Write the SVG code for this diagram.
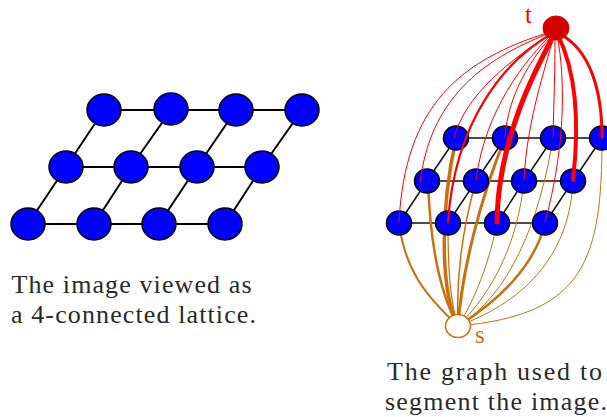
<svg xmlns="http://www.w3.org/2000/svg" width="607" height="417" viewBox="0 0 607 417">
<style>
.n{fill:#0000ff;stroke:#000;stroke-width:1.5}
.g{stroke:#000;stroke-width:2;fill:none}
.g2{stroke:#111;stroke-width:1.5;fill:none}
.r{stroke:#ff0000;fill:none;stroke-linecap:round}
.o{stroke:#c8700e;fill:none;stroke-linecap:round}
.cap{font-family:"Liberation Serif","DejaVu Serif",serif;font-size:26px;fill:#2a2a2a}
.lbl{font-family:"Liberation Serif","DejaVu Serif",serif;font-size:25px}
</style>
<rect width="607" height="417" fill="#fff"/>
<!-- Left lattice -->
<g id="lattice-edges">
<path class="g" d="M104,110H302M66,167H262M28,224H225"/>
<path class="g" d="M28,224L66,167L104,110M94,224L131,167L171,110M159,224L197,167L236,110M225,224L262,167L302,110"/>
</g>
<g id="L-t1"><ellipse class="n" cx="104" cy="110" rx="17" ry="16"/></g>
<g id="L-t2"><ellipse class="n" cx="171" cy="109" rx="17" ry="16"/></g>
<g id="L-t3"><ellipse class="n" cx="236" cy="110" rx="17" ry="16"/></g>
<g id="L-t4"><ellipse class="n" cx="302" cy="110" rx="17" ry="16"/></g>
<g id="L-m1"><ellipse class="n" cx="66" cy="167" rx="17" ry="16"/></g>
<g id="L-m2"><ellipse class="n" cx="131" cy="167" rx="17" ry="16"/></g>
<g id="L-m3"><ellipse class="n" cx="197" cy="167" rx="17" ry="16"/></g>
<g id="L-m4"><ellipse class="n" cx="262" cy="167" rx="17" ry="16"/></g>
<g id="L-b1"><ellipse class="n" cx="28" cy="224" rx="17" ry="16"/></g>
<g id="L-b2"><ellipse class="n" cx="94" cy="224" rx="17" ry="16"/></g>
<g id="L-b3"><ellipse class="n" cx="159" cy="224" rx="17" ry="16"/></g>
<g id="L-b4"><ellipse class="n" cx="225" cy="224" rx="17" ry="16"/></g>
<text class="cap" x="11.5" y="293" textLength="240">The image viewed as</text>
<text class="cap" x="11" y="323" textLength="245">a 4-connected lattice.</text>

<!-- Right graph -->
<g id="grid-edges">
<path class="g2" d="M456,138H602M427,181H573M399,223H545"/>
<path class="g2" d="M399,223L427,181L456,138M448,223L476,181L505,138M497,223L524,181L553,138M545,223L573,181L602,138"/>
</g>
<g id="s-edges">
<path class="o" stroke-width="2" d="M399,223C405,270 425,295 458,326"/>
<path class="o" stroke-width="2.5" d="M428,181C430,240 438,290 458,326"/>
<path class="o" stroke-width="3.5" d="M456,139C440,210 440,290 458,326"/>
<path class="o" stroke-width="1.2" d="M448,223C448,270 450,300 458,326"/>
<path class="o" stroke-width="1.5" d="M476,181C462,230 456,280 458,326"/>
<path class="o" stroke-width="3" d="M505,138C480,200 462,270 458,326"/>
<path class="o" stroke-width="1" d="M497,223C490,260 475,300 458,326"/>
<path class="o" stroke-width="1" d="M524,181C518,240 495,290 458,326"/>
<path class="o" stroke-width="1" d="M553,138C540,220 510,295 458,326"/>
<path class="o" stroke-width="2.5" d="M545,223C535,265 500,300 458,326"/>
<path class="o" stroke-width="1" d="M573,181C570,250 530,300 458,326"/>
<path class="o" stroke-width="1" d="M602,138C602,260 585,315 458,326"/>
</g>
<g id="R-t1"><ellipse class="n" cx="456" cy="138" rx="12.5" ry="12"/></g>
<g id="R-t2"><ellipse class="n" cx="505" cy="138" rx="12.5" ry="12"/></g>
<g id="R-t3"><ellipse class="n" cx="553" cy="138" rx="12.5" ry="12"/></g>
<g id="R-t4"><ellipse class="n" cx="602" cy="138" rx="12.5" ry="12"/></g>
<g id="R-m1"><ellipse class="n" cx="427" cy="181" rx="12.5" ry="12"/></g>
<g id="R-m2"><ellipse class="n" cx="476" cy="181" rx="12.5" ry="12"/></g>
<g id="R-m3"><ellipse class="n" cx="524" cy="181" rx="12.5" ry="12"/></g>
<g id="R-m4"><ellipse class="n" cx="573" cy="181" rx="12.5" ry="12"/></g>
<g id="R-b1"><ellipse class="n" cx="399" cy="223" rx="12.5" ry="12"/></g>
<g id="R-b2"><ellipse class="n" cx="448" cy="223" rx="12.5" ry="12"/></g>
<g id="R-b3"><ellipse class="n" cx="497" cy="223" rx="12.5" ry="12"/></g>
<g id="R-b4"><ellipse class="n" cx="545" cy="223" rx="12.5" ry="12"/></g>
<g id="t-edges">
<path class="r" stroke-width="1" d="M550,32C460,60 405,105 399,222"/>
<path class="r" stroke-width="1" d="M550,33C480,60 430,100 420,183"/>
<path class="r" stroke-width="1" d="M552,33C510,60 465,95 454,138"/>
<path class="r" stroke-width="2.2" d="M553,33C505,60 455,120 448,222"/>
<path class="r" stroke-width="1" d="M553,33C525,60 485,110 476,180"/>
<path class="r" stroke-width="1" d="M554,33C530,60 508,95 505,137"/>
<path class="r" stroke-width="5" stroke-linecap="butt" d="M555,33C535,70 498,140 497,222"/>
<path class="r" stroke-width="1" d="M554,35C545,70 527,120 524,180"/>
<path class="r" stroke-width="1" d="M555,35C555,70 554,100 553,137"/>
<path class="r" stroke-width="1" d="M557,35C566,80 565,150 545,222"/>
<path class="r" stroke-width="4" stroke-linecap="butt" d="M558,35C575,70 580,120 573,180"/>
<path class="r" stroke-width="3" stroke-linecap="butt" d="M560,34C590,50 602,90 602,137"/>
</g>
<g id="t"><ellipse cx="556" cy="28" rx="13" ry="12" fill="#d40000" stroke="#d40000"/>
<text class="lbl" x="525" y="23" fill="#ff0000">t</text></g>
<g id="s"><ellipse cx="458" cy="326" rx="12.5" ry="11.5" fill="#fff" stroke="#c8700e" stroke-width="1.5"/>
<text class="lbl" x="475" y="343" fill="#c8700e">s</text></g>
<text class="cap" x="387" y="380" textLength="215">The graph used to</text>
<text class="cap" x="385" y="410" textLength="222">segment the image.</text>
</svg>
